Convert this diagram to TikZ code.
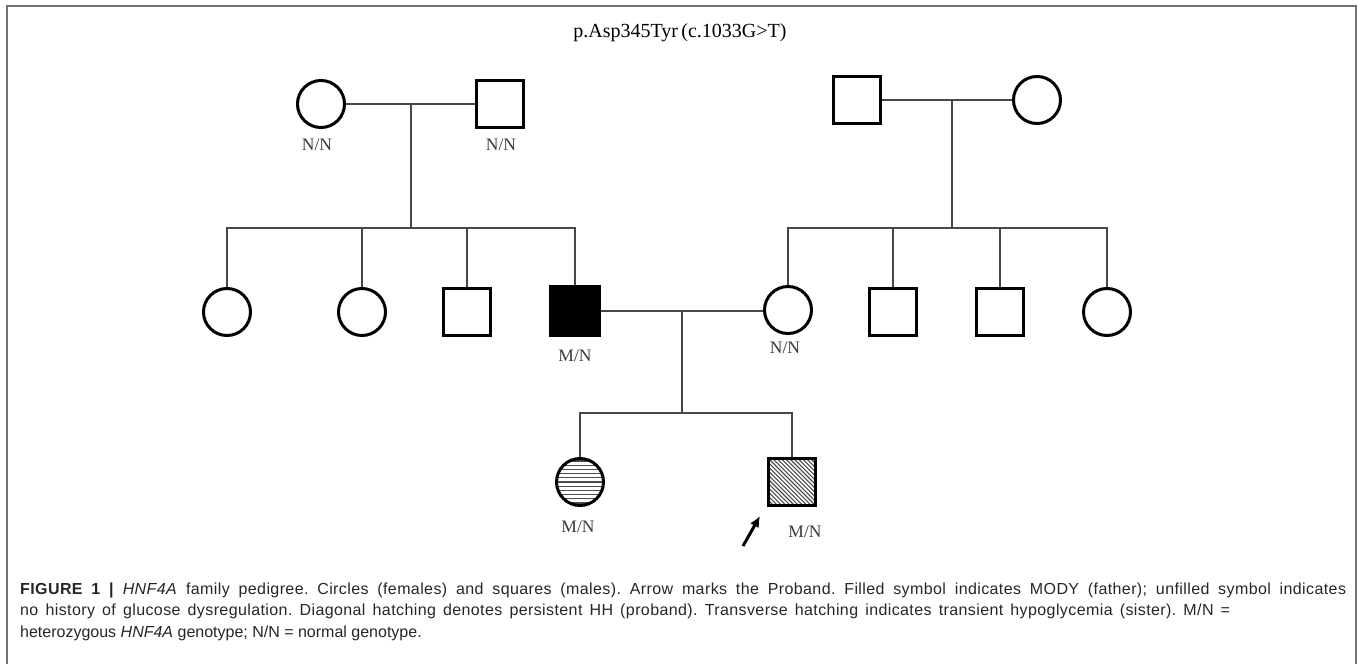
\documentclass[tikz,border=0pt]{standalone}
\usepackage{fontspec}
\usetikzlibrary{arrows.meta}
\setmainfont{Liberation Serif}
\newfontfamily\capfont{Liberation Sans}
\newfontfamily\capfontwide[LetterSpace=2.5]{Liberation Sans}
\frenchspacing
\begin{document}
\begin{tikzpicture}[x=1pt,y=-1pt,
  person/.style={draw=black, line width=3pt, inner sep=0pt, minimum size=47pt},
  fem/.style={person, circle},
  mal/.style={person, rectangle},
  link/.style={draw=black!72, line width=1.6pt},
  gtype/.style={font=\fontsize{17.5}{17.5}\selectfont, text=black!78, inner sep=0pt, anchor=base},
  hatch/.style={draw=black!70, line width=1.1pt},
  horizhatch/.style={path picture={
      \foreach \k in {-12,...,12}
        \draw[hatch] ([yshift=\k*4.2pt]path picture bounding box.west) -- ([yshift=\k*4.2pt]path picture bounding box.east);}},
  diaghatch/.style={path picture={
      \foreach \k in {-16,...,16}
        \draw[hatch, shift={(path picture bounding box.center)}] (\k*4.2-30,-30) -- (\k*4.2+30,30);}},
  capline/.style={font=\capfont\fontsize{16}{16}\selectfont\frenchspacing, text=black!85, inner sep=0pt, anchor=base west},
  caplinewide/.style={capline, font=\capfontwide\fontsize{16}{16}\selectfont\frenchspacing}
]
\useasboundingbox (0,0) rectangle (1358,664);
% frame
\draw[black!55, line width=2pt] (7,664) -- (7,6) -- (1356,6) -- (1356,664);
% title
\node[font=\fontsize{20}{20}\selectfont, inner sep=0pt, anchor=base] (title) at (680,37) {p.Asp345Tyr\,(c.1033G>T)};

% generation I
\node[fem] (I1) at (321,104) {};
\node[mal] (I2) at (500,104) {};
\node[mal] (I3) at (857,100) {};
\node[fem] (I4) at (1037,100) {};
\node[gtype] (lI1) at (317,150) {N/N};
\node[gtype] (lI2) at (501,150) {N/N};

% generation II
\node[fem] (II1) at (227,312) {};
\node[fem] (II2) at (362,312) {};
\node[mal] (II3) at (467,312) {};
\node[mal, fill=black, minimum size=49pt] (II4) at (575,311) {};
\node[fem] (II5) at (788,310) {};
\node[mal] (II6) at (893,312) {};
\node[mal] (II7) at (1000,312) {};
\node[fem] (II8) at (1107,312) {};
\node[gtype] (lII4) at (575,361) {M/N};
\node[gtype] (lII5) at (785,353) {N/N};

% generation III
\node[fem, horizhatch] (III1) at (580,482) {};
\node[mal, diaghatch] (III2) at (792,482) {};
\node[gtype] (lIII1) at (578,532) {M/N};
\node[gtype] (lIII2) at (805,537) {M/N};

% mating lines and drops
\coordinate (m1) at (411,104);
\coordinate (s1) at (411,228);
\draw[link] (I1) -- (I2);
\draw[link] (m1) -- (s1);
\draw[link] (II1.north) |- (II4.north |- s1) -- (II4.north);
\draw[link] (II2.north) -- (II2.north |- s1);
\draw[link] (II3.north) -- (II3.north |- s1);

\coordinate (m2) at (952,100);
\coordinate (s2) at (952,228);
\draw[link] (I3) -- (I4);
\draw[link] (m2) -- (s2);
\draw[link] (II5.north) |- (II8.north |- s2) -- (II8.north);
\draw[link] (II6.north) -- (II6.north |- s2);
\draw[link] (II7.north) -- (II7.north |- s2);

\coordinate (m3) at (682,311);
\coordinate (s3) at (682,413);
\draw[link] (II4.east |- m3) -- (II5.west |- m3);
\draw[link] (m3) -- (s3);
\draw[link] (III1.north) |- (III2.north |- s3) -- (III2.north);

% proband arrow
\coordinate (arT) at (743,546);
\coordinate (arH) at (760,516);
\draw[line width=3pt, -{Latex[length=11pt,width=10pt]}] (arT) -- (arH);

% caption
\node[caplinewide] (cap1) at (20,594) {\makebox[1326pt][s]{\textbf{FIGURE 1 |} \textit{HNF4A} family pedigree. Circles (females) and squares (males). Arrow marks the Proband. Filled symbol indicates MODY (father); unfilled symbol indicates}};
\node[caplinewide] (cap2) at (20,615.5) {\makebox[1210pt][s]{no history of glucose dysregulation. Diagonal hatching denotes persistent HH (proband). Transverse hatching indicates transient hypoglycemia (sister). M/N =}};
\node[capline] (cap3) at (20,637) {heterozygous \textit{HNF4A} genotype; N/N = normal genotype.};
\end{tikzpicture}
\end{document}
